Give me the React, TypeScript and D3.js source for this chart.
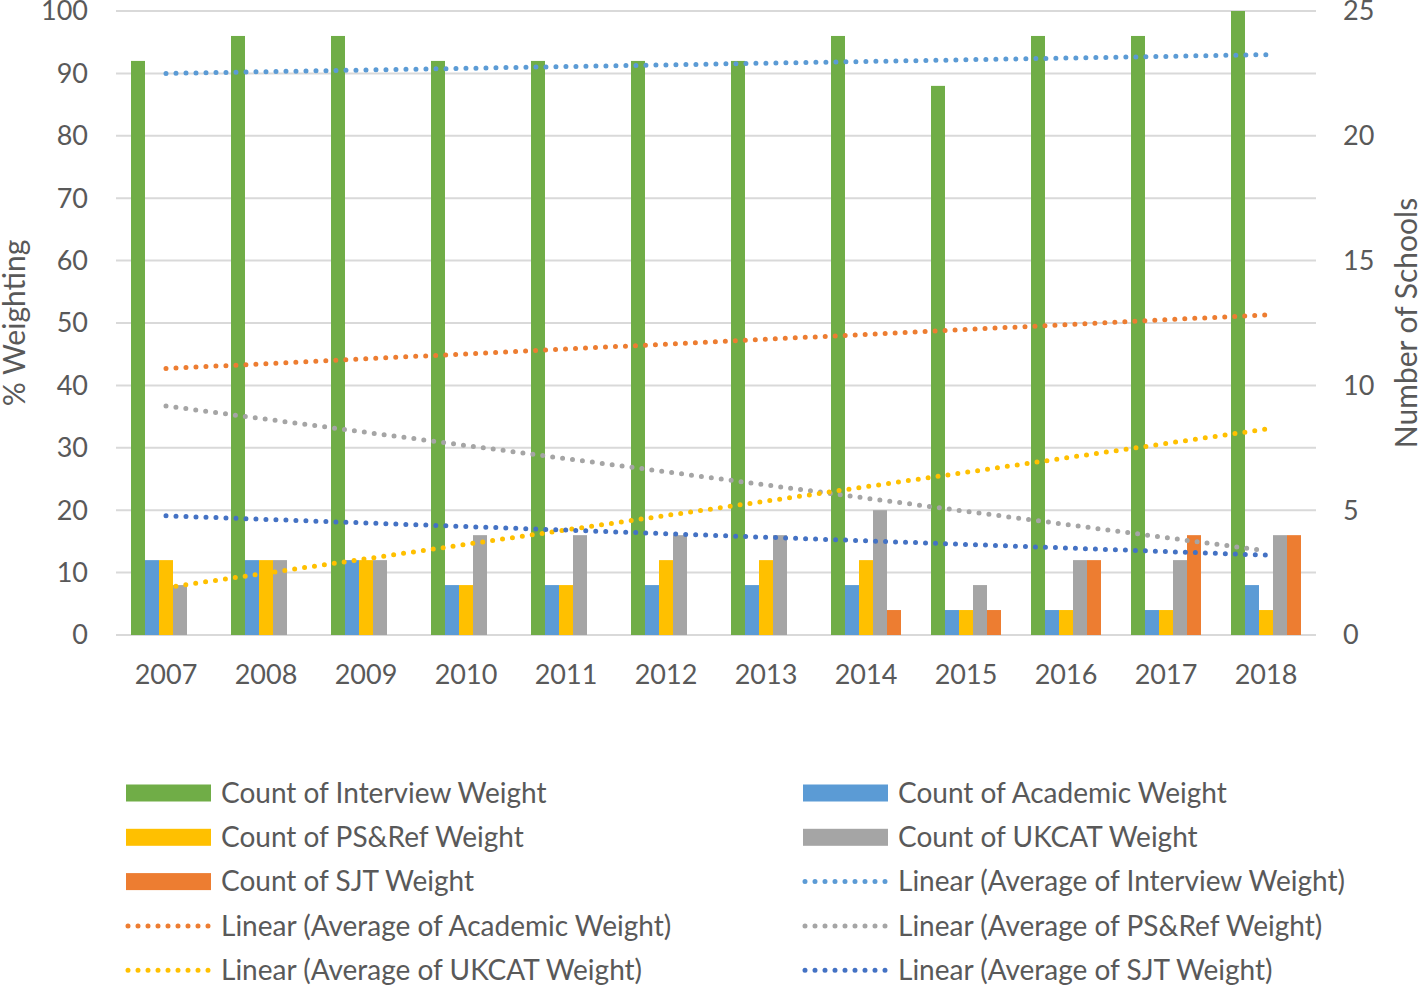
import React from "react";
import * as d3 from "d3";

const years = ["2007","2008","2009","2010","2011","2012","2013","2014","2015","2016","2017","2018"];
const interviewCount = [23,24,24,23,23,23,23,24,22,24,24,25];
const academicCount = [3,3,3,2,2,2,2,2,1,1,1,2];
const psrefCount = [3,3,3,2,2,3,3,3,1,1,1,1];
const ukcatCount = [2,3,3,4,4,4,4,5,2,3,3,4];
const sjtCount = [0,0,0,0,0,0,0,1,1,3,4,4];

// linear trend endpoints (value at 2007, value at 2018) on the % Weighting axis
const trendInterview = [90.0, 93.0];
const trendAcademic = [42.7, 51.3];
const trendPsref = [36.7, 13.5];
const trendUkcat = [7.6, 33.0];
const trendSjt = [19.1, 12.8];

const leftTicks = [0,10,20,30,40,50,60,70,80,90,100];
const rightTicks = [0,5,10,15,20,25];

const barSeries = [
  { name: "Count of Interview Weight", values: interviewCount, color: "#70AD47" },
  { name: "Count of Academic Weight", values: academicCount, color: "#5B9BD5" },
  { name: "Count of PS&Ref Weight", values: psrefCount, color: "#FFC000" },
  { name: "Count of UKCAT Weight", values: ukcatCount, color: "#A5A5A5" },
  { name: "Count of SJT Weight", values: sjtCount, color: "#ED7D31" },
];
const trendSeries = [
  { name: "Linear (Average of Interview Weight)", values: trendInterview, color: "#5B9BD5" },
  { name: "Linear (Average of Academic Weight)", values: trendAcademic, color: "#ED7D31" },
  { name: "Linear (Average of PS&Ref Weight)", values: trendPsref, color: "#A5A5A5" },
  { name: "Linear (Average of UKCAT Weight)", values: trendUkcat, color: "#FFC000" },
  { name: "Linear (Average of SJT Weight)", values: trendSjt, color: "#4472C4" },
];

const W = 1418, H = 985;
const plotLeft = 116, plotRight = 1316, plotTop = 11, plotBottom = 635;
const textColor = "#595959";
const font = "Lato, 'Open Sans', sans-serif";
const fs = 27;

export default function App() {
  const x = d3.scaleBand<string>().domain(years).range([plotLeft, plotRight]).paddingInner(0.3).paddingOuter(0.15);
  const xCenter = (y: string) => (x(y) as number) + x.bandwidth() / 2;
  const yL = d3.scaleLinear().domain([0, 100]).range([plotBottom, plotTop]);
  const yR = d3.scaleLinear().domain([0, 25]).range([plotBottom, plotTop]);
  const inner = d3.scaleBand<number>().domain(d3.range(barSeries.length)).range([0, x.bandwidth()]);
  const line = d3.line<[number, number]>().x(d => d[0]).y(d => d[1]);

  const legendItems = [...barSeries.map(s => ({ ...s, kind: "bar" })), ...trendSeries.map(s => ({ ...s, kind: "line" }))];

  return (
    <svg width={W} height={H} style={{ position: "absolute", left: 0, top: 0, background: "#fff" }} fontFamily={font}>
      <rect width={W} height={H} fill="#fff" />
      {leftTicks.map(t => (
        <line key={"g" + t} x1={plotLeft} x2={plotRight} y1={yL(t)} y2={yL(t)} stroke="#D9D9D9" strokeWidth={2} />
      ))}
      {leftTicks.map(t => (
        <text key={"l" + t} x={88} y={yL(t)} dy="0.35em" textAnchor="end" fontSize={fs} fill={textColor}>{t}</text>
      ))}
      {rightTicks.map(t => (
        <text key={"r" + t} x={1343} y={yR(t)} dy="0.35em" textAnchor="start" fontSize={fs} fill={textColor}>{t}</text>
      ))}
      {years.map(y => (
        <text key={"x" + y} x={xCenter(y)} y={675} dy="0.35em" textAnchor="middle" fontSize={fs} fill={textColor}>{y}</text>
      ))}
      {barSeries.map((s, si) => (
        <g key={s.name}>
          {s.values.map((v, i) => (
            <rect key={i} x={(x(years[i]) as number) + (inner(si) as number)} width={inner.bandwidth()}
              y={yR(v)} height={plotBottom - yR(v)} fill={s.color} />
          ))}
        </g>
      ))}
      {trendSeries.map(s => (
        <path key={s.name}
          d={line([[xCenter(years[0]), yL(s.values[0])], [xCenter(years[years.length - 1]), yL(s.values[1])]]) as string}
          fill="none" stroke={s.color} strokeWidth={5} strokeLinecap="round" strokeDasharray="0 10" />
      ))}
      <text transform={`translate(25,${(plotTop + plotBottom) / 2}) rotate(-90)`} textAnchor="middle" fontSize={30} fill={textColor}>% Weighting</text>
      <text transform={`translate(1417,${(plotTop + plotBottom) / 2}) rotate(-90)`} textAnchor="middle" fontSize={30} fill={textColor}>Number of Schools</text>
      {legendItems.map((it, i) => {
        const col = i % 2;
        const row = Math.floor(i / 2);
        const sx = col === 0 ? 126 : 803;
        const cy = 793 + row * 44.3;
        return (
          <g key={it.name}>
            {it.kind === "bar" ? (
              <rect x={sx} y={cy - 8.5} width={85} height={17} fill={it.color} />
            ) : (
              <line x1={sx + 2} x2={sx + 83} y1={cy} y2={cy} stroke={it.color} strokeWidth={5} strokeLinecap="round" strokeDasharray="0 10" />
            )}
            <text x={sx + 95} y={cy} dy="0.35em" fontSize={28} fill={textColor}>{it.name}</text>
          </g>
        );
      })}
    </svg>
  );
}
